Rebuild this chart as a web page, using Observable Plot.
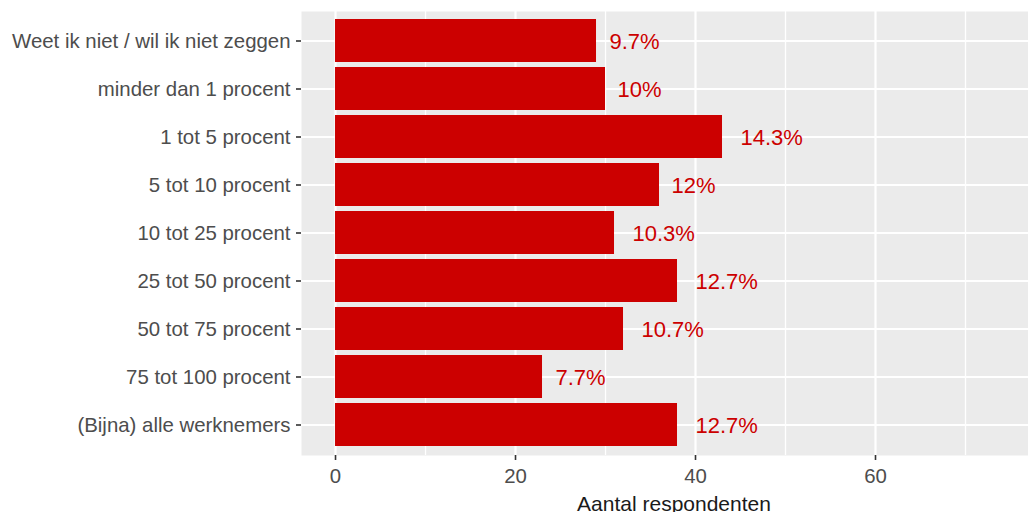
<!DOCTYPE html>
<html>
<head>
<meta charset="utf-8">
<script src="https://cdn.jsdelivr.net/npm/d3@7"></script>
<script src="https://cdn.jsdelivr.net/npm/@observablehq/plot@0.6"></script>
<style>
  html, body { margin: 0; padding: 0; background: #fff; overflow: hidden; }
</style>
</head>
<body>
<div id="chart"></div>
<script>
const categories = [
  "Weet ik niet / wil ik niet zeggen",
  "minder dan 1 procent",
  "1 tot 5 procent",
  "5 tot 10 procent",
  "10 tot 25 procent",
  "25 tot 50 procent",
  "50 tot 75 procent",
  "75 tot 100 procent",
  "(Bijna) alle werknemers"
];
const counts = [29, 30, 43, 36, 31, 38, 32, 23, 38];
const percentLabels = ["9.7%", "10%", "14.3%", "12%", "10.3%", "12.7%", "10.7%", "7.7%", "12.7%"];
const majorTicks = [0, 20, 40, 60];
const minorTicks = [10, 30, 50, 70];
const xTitle = "Aantal respondenten";

const data = categories.map((c, i) => ({category: c, count: counts[i], label: percentLabels[i]}));

const red = "#CC0000";
const labelDx = {3: 12, 4: 13, 5: 18};

const labelMarks = [3, 4, 5].map(n =>
  Plot.text(data.filter(d => d.label.length === n), {
    x: "count", y: "category", text: "label",
    textAnchor: "start", dx: labelDx[n], dy: 1, fill: red, fontSize: 22
  })
);

const chart = Plot.plot({
  width: 1028,
  height: 512,
  marginLeft: 301,
  marginRight: 0,
  marginTop: 11,
  marginBottom: 57,
  style: {fontFamily: "'Liberation Sans', Arial, sans-serif", background: "#fff"},
  x: {domain: [-3.78, 77], label: null},
  y: {type: "band", domain: categories, paddingInner: 0.1, paddingOuter: 0.15, align: 0.5, label: null},
  marks: [
    Plot.frame({fill: "#EBEBEB", stroke: null}),
    Plot.gridX(minorTicks, {stroke: "#fff", strokeOpacity: 1, strokeWidth: 1.3}),
    Plot.gridX(majorTicks, {stroke: "#fff", strokeOpacity: 1, strokeWidth: 2.2}),
    Plot.gridY({stroke: "#fff", strokeOpacity: 1, strokeWidth: 2.2}),
    Plot.barX(data, {x: "count", y: "category", fill: red}),
    ...labelMarks,
    Plot.axisY({tickSize: 5, tickPadding: 6, fontSize: 20.4, stroke: "#333333", strokeWidth: 1.6, fill: "#4D4D4D", label: null}),
    Plot.axisX(majorTicks, {tickSize: 5, tickPadding: 8, fontSize: 20.4, stroke: "#333333", strokeWidth: 1.6, fill: "#4D4D4D", label: null}),
    Plot.text([xTitle], {text: d => d, frameAnchor: "bottom", lineAnchor: "top", dy: 41, dx: 9, fontSize: 21, fill: "#1a1a1a"})
  ]
});
document.getElementById("chart").appendChild(chart);
</script>
</body>
</html>
